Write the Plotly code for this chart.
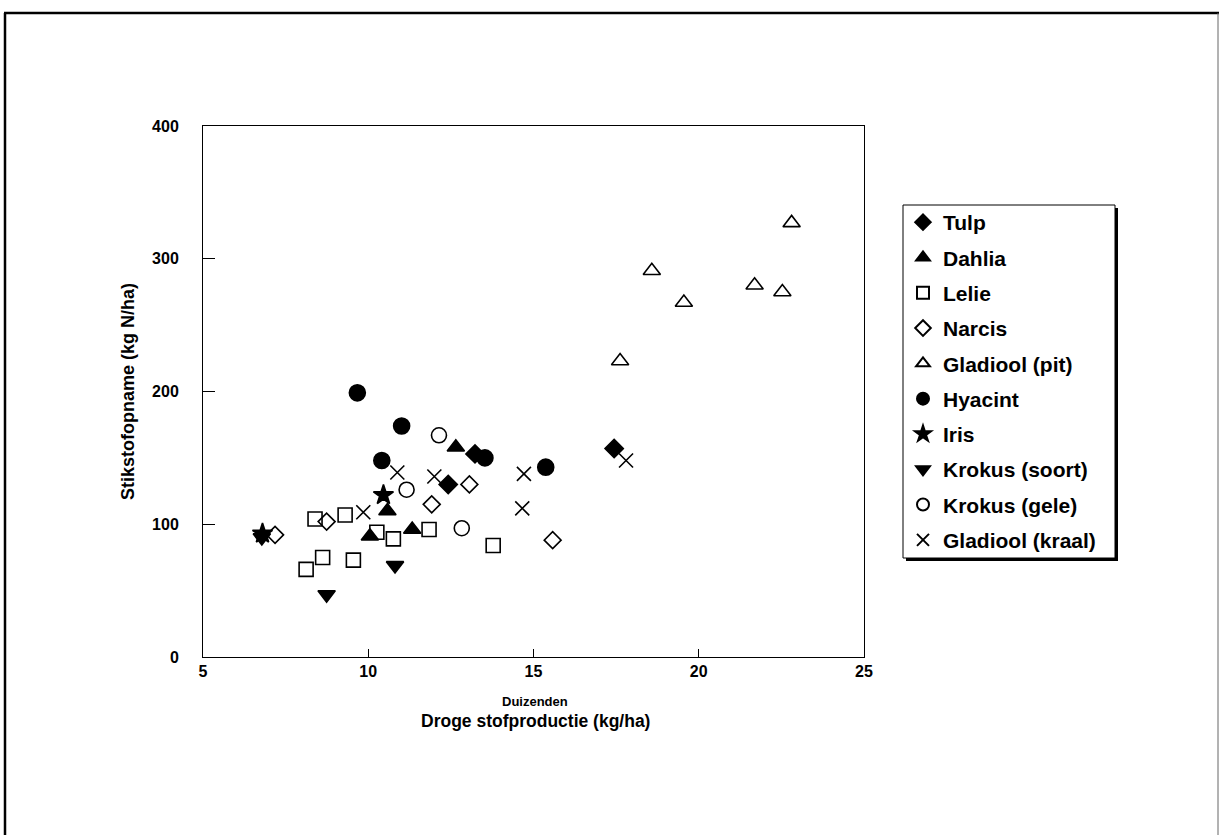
import plotly.graph_objects as go

# ---- data ----
tulp_x = [12.42, 13.23, 17.44]
tulp_y = [130, 153, 157]
dahlia_x = [10.05, 10.58, 11.33, 12.65]
dahlia_y = [91, 110, 96, 158]
lelie_x = [8.12, 8.39, 8.62, 9.30, 9.55, 10.26, 10.76, 11.84, 13.78]
lelie_y = [66, 104, 75, 107, 73, 94, 89, 96, 84]
narcis_x = [7.18, 8.74, 11.92, 13.06, 15.58]
narcis_y = [92, 102, 115, 130, 88]
glad_pit_x = [17.62, 18.58, 19.55, 21.69, 22.53, 22.81]
glad_pit_y = [223, 291, 267, 280, 275, 327]
hyacint_x = [9.67, 10.41, 11.01, 13.53, 15.37]
hyacint_y = [199, 148, 174, 150, 143]
iris_x = [6.80, 10.46]
iris_y = [93, 122]
krokus_soort_x = [6.78, 8.74, 10.81]
krokus_soort_y = [90, 47, 69]
krokus_gele_x = [11.16, 12.14, 12.83]
krokus_gele_y = [126, 167, 97]
glad_kraal_x = [9.85, 10.88, 12.00, 14.66, 14.71, 17.80]
glad_kraal_y = [109, 139, 136, 112, 138, 148]

x_ticks = [5, 10, 15, 20, 25]
y_ticks = [0, 100, 200, 300, 400]

series = [
    ("Tulp", tulp_x, tulp_y, "diamond", 14),
    ("Dahlia", dahlia_x, dahlia_y, "triangle-up", 15),
    ("Lelie", lelie_x, lelie_y, "square-open", 14),
    ("Narcis", narcis_x, narcis_y, "diamond-open", 13),
    ("Gladiool (pit)", glad_pit_x, glad_pit_y, "triangle-up-open", 15),
    ("Hyacint", hyacint_x, hyacint_y, "circle", 16),
    ("Iris", iris_x, iris_y, "star", 15),
    ("Krokus (soort)", krokus_soort_x, krokus_soort_y, "triangle-down", 15),
    ("Krokus (gele)", krokus_gele_x, krokus_gele_y, "circle-open", 15),
    ("Gladiool (kraal)", glad_kraal_x, glad_kraal_y, "x-thin-open", 14),
]

W, H = 1224, 835
L, R, T, B = 203, 864, 126, 657  # plot area in pixels

def px(x):
    return (x - L) / (R - L)

def py(y):
    return (B - y) / (B - T)

FONT = "Liberation Sans, Arial, sans-serif"

fig = go.Figure()
for i, (name, xs, ys, sym, size) in enumerate(series):
    fig.add_trace(go.Scatter(
        x=xs, y=ys, mode="markers", name=name,
        legendgroup=f"g{i}",
        marker=dict(symbol=sym, size=size, color="black",
                    line=dict(color="black", width=1.6)),
    ))

fig.update_layout(
    width=W, height=H,
    margin=dict(l=L, r=W - R, t=T, b=H - B, pad=0),
    paper_bgcolor="white", plot_bgcolor="white",
    font=dict(family=FONT, color="black", size=16),
    showlegend=True,
    legend=dict(
        x=px(903), y=py(202), xanchor="left", yanchor="top",
        borderwidth=0, bgcolor="rgba(0,0,0,0)",
        font=dict(family=FONT, size=21, color="black", weight="bold"),
        tracegroupgap=5, itemsizing="constant",
    ),
    xaxis=dict(
        range=[5, 25], tickvals=x_ticks, ticktext=[str(v) for v in x_ticks],
        showgrid=False, zeroline=False, showline=True, linecolor="black",
        linewidth=1, mirror=True, ticks="inside", ticklen=8, tickcolor="black",
        tickfont=dict(family=FONT, size=16, weight="bold"),
    ),
    yaxis=dict(
        range=[0, 400], tickvals=y_ticks, ticktext=[str(v) for v in y_ticks],
        showgrid=False, zeroline=False, showline=True, linecolor="black",
        linewidth=1, mirror=True, ticks="inside", ticklen=12, tickcolor="black",
        tickfont=dict(family=FONT, size=16, weight="bold"),
        ticklabelstandoff=20,
        title=dict(text="Stikstofopname (kg N/ha)",
                   font=dict(family=FONT, size=18, weight="bold"), standoff=12),
    ),
    annotations=[
        dict(text="<b>Duizenden</b>", x=px(535), y=py(701), xref="paper", yref="paper",
             xanchor="center", yanchor="middle", showarrow=False,
             font=dict(family=FONT, size=13)),
        dict(text="<b>Droge stofproductie (kg/ha)</b>", x=px(535), y=py(721),
             xref="paper", yref="paper", xanchor="center", yanchor="middle",
             showarrow=False, font=dict(family=FONT, size=17.5)),
    ],
    shapes=[
        # outer frame
        dict(type="line", xref="paper", yref="paper", x0=px(4), x1=px(1219),
             y0=py(13), y1=py(13), line=dict(color="black", width=2.5)),
        dict(type="line", xref="paper", yref="paper", x0=px(5), x1=px(5),
             y0=py(13), y1=py(840), line=dict(color="black", width=2.5)),
        dict(type="line", xref="paper", yref="paper", x0=px(1218), x1=px(1218),
             y0=py(13), y1=py(840), line=dict(color="#666666", width=1)),
        # legend shadow and box
        dict(type="rect", xref="paper", yref="paper", x0=px(906), x1=px(1118),
             y0=py(208), y1=py(561), fillcolor="black", line=dict(width=0),
             layer="above"),
        dict(type="rect", xref="paper", yref="paper", x0=px(903), x1=px(1115),
             y0=py(205), y1=py(558), fillcolor="white",
             line=dict(color="black", width=1), layer="above"),
    ],
)

fig.write_html("out.html")
